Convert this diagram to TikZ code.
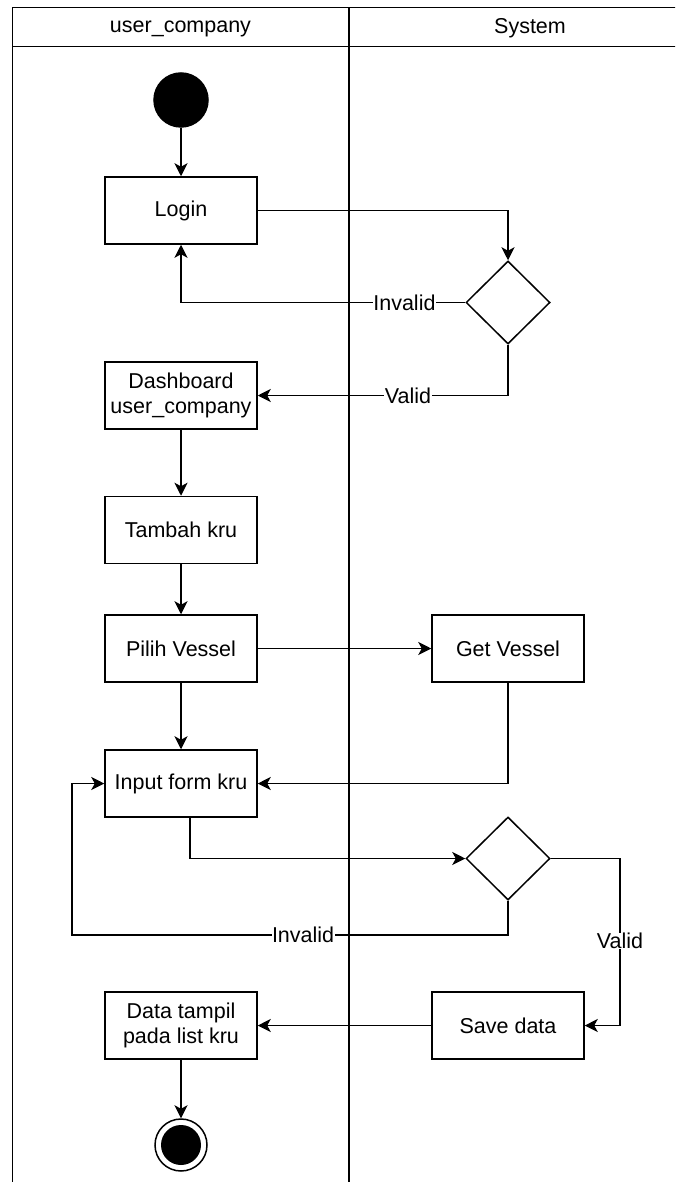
\documentclass[tikz,border=0pt]{standalone}
\usepackage{fontspec}
\setmainfont{Liberation Sans}
\usetikzlibrary{shapes.geometric,arrows.meta}
\begin{document}
\begin{tikzpicture}[x=1pt,y=-1pt,
  font=\fontsize{21.5}{24.5}\selectfont,
  line width=1.5pt,
  act/.style={draw, rectangle, minimum width=152pt, minimum height=67pt, inner sep=2pt, align=center},
  dec/.style={draw, diamond, minimum width=84pt, minimum height=83pt, inner sep=0pt},
  flow/.style={-{Stealth[length=13pt,width=13pt,inset=3.5pt]}},
  lbl/.style={fill=white, inner sep=0.5pt},
  hdr/.style={inner sep=0pt},
  lane/.style={line width=1.5pt}
]
\useasboundingbox (0,0) rectangle (675,1182);
\fill[white] (0,0) rectangle (675,1182);
\begin{scope}
\clip (0,0) rectangle (675,1182);
\draw[lane] (12.7,1195) -- (12.7,7.3) -- (720,7.3);
\draw[lane] (12.7,46.7) -- (720,46.7);
\draw[lane] (349,7.3) -- (349,1195);
\end{scope}
\node[hdr] (h1) at (180.5,28.5) {user\_company};
\node[hdr] (h2) at (530,28.5) {System};

\node[draw, circle, fill=black, minimum size=54pt, inner sep=0pt] (start) at (181,100) {};
\node[act] (login) at (181,210.5) {Login};
\node[dec] (d1) at (508,302.5) {};
\node[act] (dash) at (181,395.5) {Dashboard\\user\_company};
\node[act] (tambah) at (181,530) {Tambah kru};
\node[act] (pilih) at (181,648.5) {Pilih Vessel};
\node[act] (get) at (508,648.5) {Get Vessel};
\node[act] (input) at (181,783.5) {Input form kru};
\node[dec] (d2) at (508,858.5) {};
\node[act] (save) at (508,1025.5) {Save data};
\node[act] (data) at (181,1025.5) {Data tampil\\pada list kru};
\node[draw, circle, minimum size=52pt, inner sep=0pt,
  path picture={\fill[black] (path picture bounding box.center) circle (20pt);}] (end) at (181,1145) {};

\coordinate (loopL) at (72,935);
\coordinate (vr) at (620,941);

\draw[flow] (start) -- (login);
\draw[flow] (login.east) -| (d1.north);
\draw[flow] (d1.west) -| node[lbl, pos=0.107] {Invalid} (login.south);
\draw[flow] (d1.south) |- node[lbl, pos=0.7] {Valid} (dash.east);
\draw[flow] (dash) -- (tambah);
\draw[flow] (tambah) -- (pilih);
\draw[flow] (pilih) -- (input);
\draw[flow] (pilih) -- (get);
\draw[flow] (get.south) |- (input.east);
\draw[flow] ([xshift=9pt]input.south) |- (d2.west);
\draw[flow] (d2.south) |- (loopL) node[lbl, pos=0.735] {Invalid} |- (input.west);
\draw[flow] (d2.east) -| (vr) node[lbl] {Valid} |- (save.east);
\draw[flow] (save) -- (data);
\draw[flow] (data) -- (end);
\end{tikzpicture}
\end{document}
